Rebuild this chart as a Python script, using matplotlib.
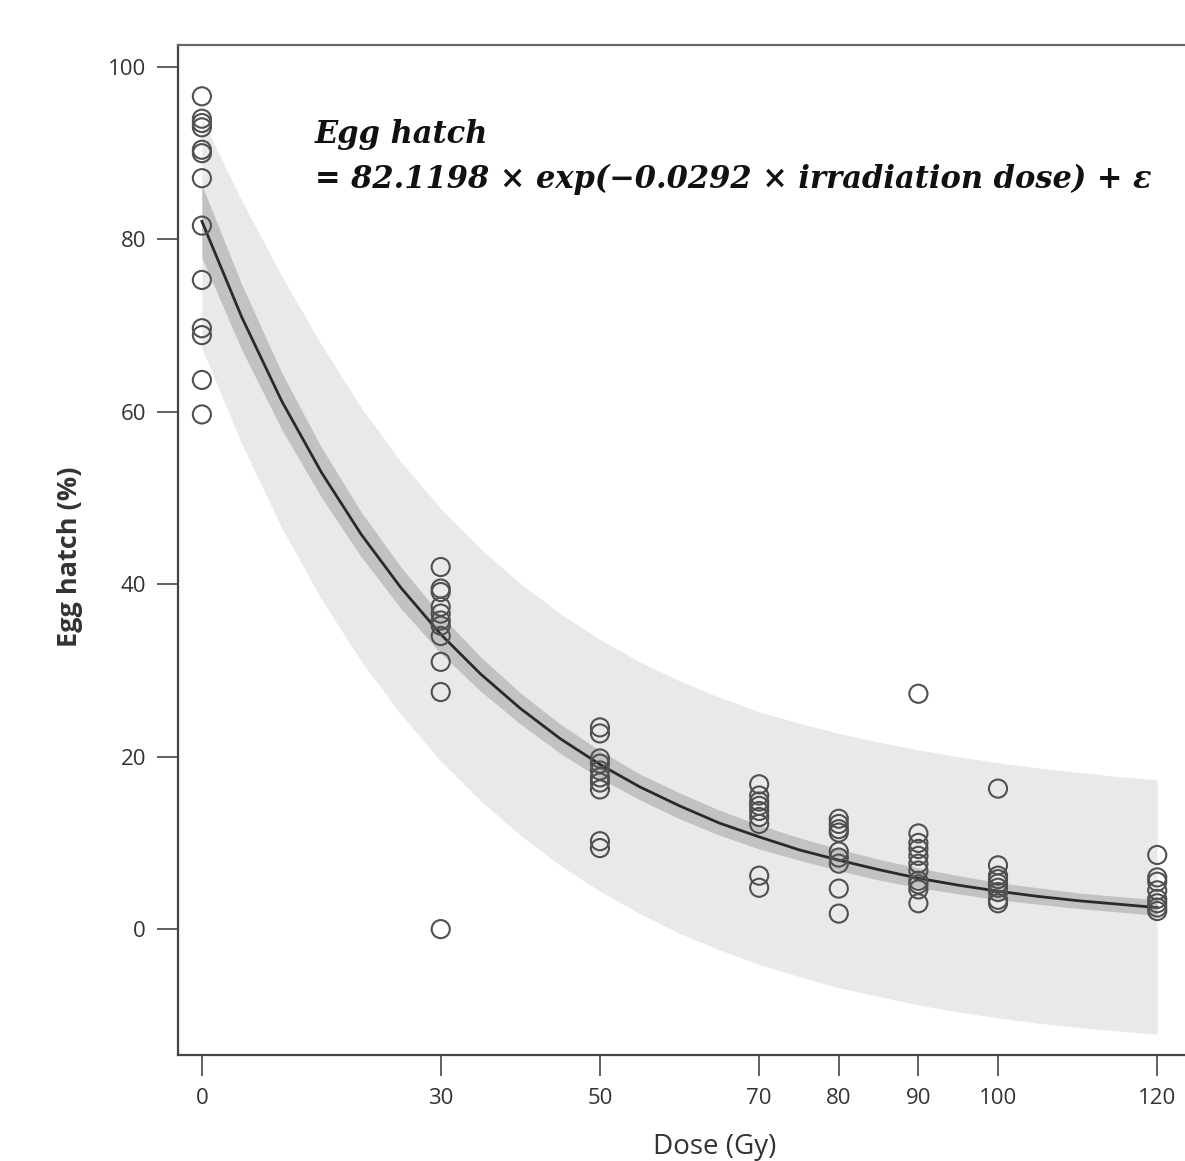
import matplotlib
matplotlib.use("Agg")
import matplotlib.pyplot as plt

# observed egg hatch (%) per irradiation dose (Gy)
dose_0 = [96.6, 94.0, 93.5, 93.0, 90.4, 90.0, 87.1, 81.6, 75.3, 69.7, 68.9, 63.7, 59.7]
dose_30 = [42.0, 39.5, 39.1, 37.4, 36.6, 35.8, 35.2, 34.0, 31.0, 27.5, 0.0]
dose_50 = [23.4, 22.7, 19.8, 19.2, 18.4, 17.6, 17.0, 16.2, 10.2, 9.4]
dose_70 = [16.8, 15.5, 14.8, 14.3, 13.7, 13.0, 12.2, 6.2, 4.8]
dose_80 = [12.8, 12.2, 11.6, 11.2, 9.0, 8.3, 7.6, 4.7, 1.8]
dose_90 = [27.3, 11.1, 10.0, 9.3, 8.5, 7.6, 6.8, 5.6, 5.2, 4.6, 3.0]
dose_100 = [16.3, 7.4, 6.2, 5.8, 5.3, 4.8, 4.3, 3.4, 3.0]
dose_120 = [8.6, 6.0, 5.5, 4.5, 3.5, 3.0, 2.5, 2.1]
groups = {0: dose_0, 30: dose_30, 50: dose_50, 70: dose_70, 80: dose_80,
          90: dose_90, 100: dose_100, 120: dose_120}

# fitted curve and bands, read every 5 Gy
grid = list(range(0, 125, 5))
fit = [82.1, 71.0, 61.3, 53.0, 45.8, 39.6, 34.2, 29.6, 25.6, 22.1, 19.1, 16.5, 14.3,
       12.3, 10.7, 9.2, 8.0, 6.9, 5.9, 5.1, 4.4, 3.8, 3.3, 2.9, 2.5]
ci_upper = [86.3, 74.8, 64.6, 55.9, 48.4, 42.0, 36.4, 31.6, 27.4, 23.8, 20.7, 18.0, 15.8,
            13.8, 12.1, 10.6, 9.3, 8.1, 7.1, 6.2, 5.4, 4.8, 4.2, 3.8, 3.4]
ci_lower = [77.9, 67.2, 58.0, 50.1, 43.2, 37.2, 32.0, 27.6, 23.8, 20.4, 17.5, 15.0, 12.8,
            10.9, 9.3, 8.0, 6.8, 5.7, 4.8, 4.1, 3.4, 2.9, 2.4, 2.0, 1.6]
pred_upper = [94.0, 84.5, 75.8, 67.8, 60.5, 54.2, 48.8, 44.1, 40.1, 36.6, 33.6, 31.0, 28.8,
              26.9, 25.2, 23.9, 22.7, 21.7, 20.8, 20.0, 19.3, 18.7, 18.2, 17.7, 17.3]
pred_lower = [67.4, 56.3, 46.6, 38.3, 31.1, 24.9, 19.5, 14.9, 10.9, 7.4, 4.4, 1.8, -0.5,
              -2.4, -4.1, -5.5, -6.8, -7.8, -8.8, -9.6, -10.3, -10.9, -11.4, -11.8, -12.2]

xticks = [0, 30, 50, 70, 80, 90, 100, 120]
yticks = [0, 20, 40, 60, 80, 100]

fig = plt.figure(figsize=(11.85, 11.61), dpi=100)
ax = fig.add_axes([178 / 1185, 106 / 1161, 1027 / 1185, 1010 / 1161])

ax.fill_between(grid, pred_lower, pred_upper, color="#e9e9e9", lw=0, zorder=1)
ax.fill_between(grid, ci_lower, ci_upper, color="#c2c2c2", lw=0, zorder=2)
ax.plot(grid, fit, color="#2a2a2a", lw=2.0, zorder=3)

for d, vals in groups.items():
    ax.scatter([d] * len(vals), vals, s=170, facecolors="none",
               edgecolors="#505050", linewidths=1.5, zorder=4)

ax.set_xlim(-3, 126)
ax.set_ylim(-14.6, 102.55)
ax.set_xticks(xticks)
ax.set_yticks(yticks)
for s in ["left", "bottom", "top"]:
    ax.spines[s].set_color("#444444")
    ax.spines[s].set_linewidth(1.6)
ax.spines["top"].set_color("#666666")
ax.spines["right"].set_visible(False)
ax.tick_params(axis="both", direction="out", length=15, width=1.3, color="#555555",
               labelsize=16, labelcolor="#333333", pad=8)
ax.tick_params(axis="x", pad=9)
for lab in ax.get_xticklabels() + ax.get_yticklabels():
    lab.set_family("Open Sans")

fig.text(70 / 1185, 1 - 557 / 1161, "Egg hatch (%)", rotation=90, fontsize=19.5,
         fontweight="bold", color="#333333", ha="center", va="center",
         family="Open Sans")
fig.text(715 / 1185, 1 - 1154 / 1161, "Dose (Gy)", fontsize=20,
         color="#333333", ha="center", va="baseline", family="Open Sans")

eq_font = dict(family="DejaVu Serif", fontweight="bold", style="italic",
               fontsize=22, color="#111111")
fig.text(315 / 1185, 1 - 143 / 1161, "Egg hatch", va="baseline", **eq_font)
fig.text(315 / 1185, 1 - 188 / 1161,
         "= 82.1198 \u00d7 exp(\u22120.0292 \u00d7 irradiation dose) + \u03b5",
         va="baseline", **eq_font)

fig.savefig("out.png", dpi=100)
